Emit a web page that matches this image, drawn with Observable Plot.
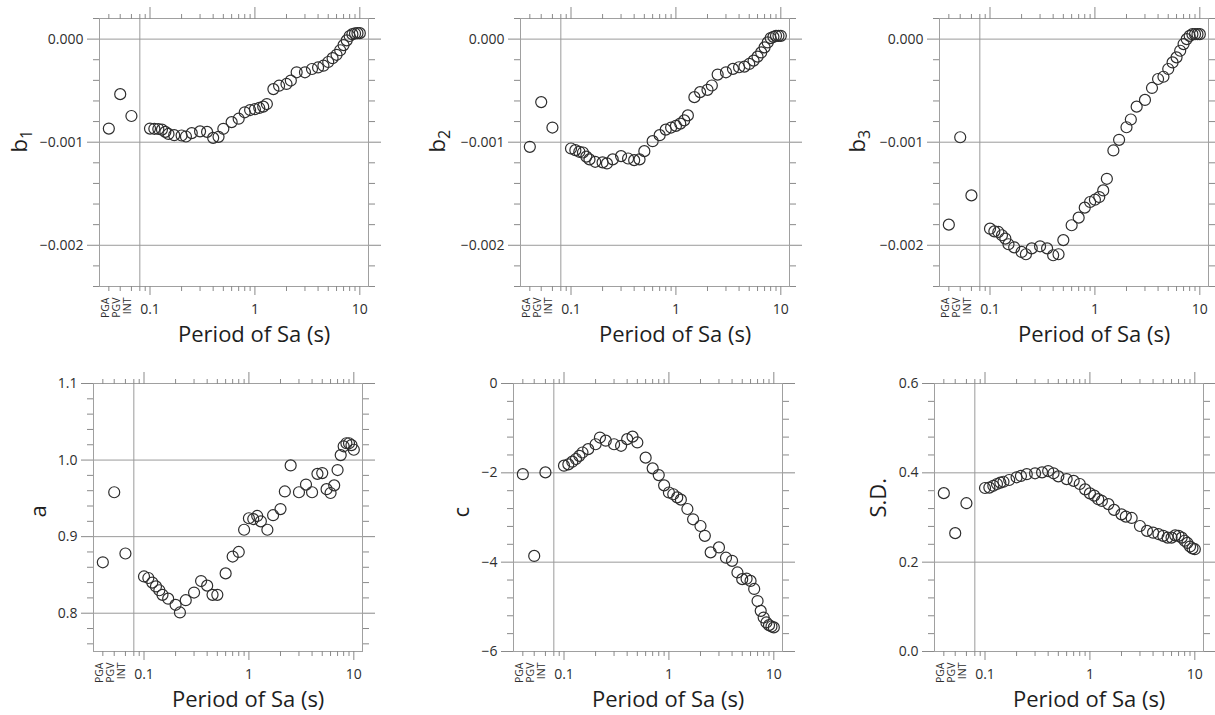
<!DOCTYPE html>
<html><head><meta charset="utf-8">
<script src="https://cdn.jsdelivr.net/npm/d3@7"></script>
<script src="https://cdn.jsdelivr.net/npm/@observablehq/plot@0.6"></script>
<style>
body{margin:0;background:#fff;}
#wrap{position:relative;width:1215px;height:715px;overflow:hidden;}
#wrap svg{position:absolute;overflow:visible;}
</style></head><body><div id="wrap"></div>
<script>
// ---- data ----
const periods = [0.1,0.11,0.12,0.13,0.14,0.15,0.17,0.2,0.22,0.25,0.3,0.35,0.4,0.45,0.5,0.6,0.7,0.8,0.9,1.0,1.1,1.2,1.3,1.5,1.7,2.0,2.2,2.5,3.0,3.5,4.0,4.5,5.0,5.5,6.0,6.5,7.0,7.5,8.0,8.5,9.0,9.5,10.0];
const specialLabels = ["PGA","PGV","INT"];
const specialPos = [0.0405, 0.052, 0.0665];   // plotting positions of PGA, PGV, INT
const separator = [0.08];

const b1 = [-0.000868,-0.000870,-0.000872,-0.000878,-0.000900,-0.000920,-0.000932,-0.000935,-0.000945,-0.000912,-0.000895,-0.000900,-0.000958,-0.000948,-0.000870,-0.000805,-0.000772,-0.000710,-0.000688,-0.000680,-0.000668,-0.000655,-0.000630,-0.000485,-0.000452,-0.000435,-0.000402,-0.000322,-0.000322,-0.000290,-0.000275,-0.000258,-0.000222,-0.000185,-0.000152,-0.000108,-0.000058,-0.000012,0.000030,0.000048,0.000055,0.000058,0.000058];
const b1Special = [-0.000868,-0.000534,-0.000746];

const b2 = [-0.001061,-0.001077,-0.001093,-0.001100,-0.001140,-0.001167,-0.001190,-0.001196,-0.001206,-0.001167,-0.001135,-0.001158,-0.001174,-0.001167,-0.001087,-0.000990,-0.000932,-0.000878,-0.000858,-0.000842,-0.000820,-0.000788,-0.000740,-0.000563,-0.000514,-0.000492,-0.000450,-0.000344,-0.000322,-0.000289,-0.000273,-0.000267,-0.000241,-0.000209,-0.000170,-0.000129,-0.000080,-0.000032,0.000010,0.000022,0.000032,0.000032,0.000032];
const b2Special = [-0.001045,-0.000611,-0.000858];

const b3 = [-0.001839,-0.001865,-0.001871,-0.001903,-0.001935,-0.001990,-0.002020,-0.002065,-0.002087,-0.002030,-0.002010,-0.002030,-0.002097,-0.002087,-0.001950,-0.001806,-0.001732,-0.001635,-0.001580,-0.001558,-0.001532,-0.001468,-0.001355,-0.001080,-0.000977,-0.000855,-0.000780,-0.000655,-0.000590,-0.000474,-0.000387,-0.000365,-0.000290,-0.000226,-0.000177,-0.000113,-0.000048,0.000000,0.000032,0.000048,0.000048,0.000048,0.000048];
const b3Special = [-0.001800,-0.000952,-0.001516];

const aVals = [0.848,0.846,0.840,0.835,0.830,0.824,0.819,0.811,0.801,0.817,0.827,0.842,0.836,0.824,0.824,0.852,0.874,0.880,0.909,0.924,0.923,0.927,0.920,0.909,0.928,0.936,0.959,0.993,0.958,0.968,0.958,0.982,0.983,0.962,0.957,0.967,0.987,1.0065,1.018,1.022,1.022,1.0196,1.0135];
const aSpecial = [0.8665,0.958,0.878];

const cVals = [-1.84,-1.81,-1.75,-1.69,-1.62,-1.545,-1.47,-1.36,-1.21,-1.28,-1.36,-1.395,-1.246,-1.19,-1.32,-1.66,-1.90,-2.05,-2.28,-2.44,-2.48,-2.55,-2.60,-2.81,-3.04,-3.19,-3.41,-3.78,-3.67,-3.90,-3.97,-4.23,-4.38,-4.37,-4.42,-4.60,-4.87,-5.09,-5.24,-5.35,-5.41,-5.44,-5.46];
const cSpecial = [-2.03,-3.86,-1.99];

const sdVals = [0.366,0.367,0.371,0.375,0.378,0.380,0.384,0.390,0.393,0.397,0.399,0.401,0.404,0.399,0.392,0.386,0.382,0.375,0.363,0.354,0.349,0.341,0.337,0.330,0.317,0.307,0.302,0.299,0.281,0.270,0.266,0.263,0.259,0.255,0.255,0.260,0.259,0.255,0.248,0.243,0.235,0.231,0.229];
const sdSpecial = [0.3545,0.265,0.332];

// tick labels / tick values
const xMajor = [0.1, 1, 10];
const xMajorLabels = ["0.1", "1", "10"];
const xMinor = [0.08,0.09,0.2,0.3,0.4,0.5,0.6,0.7,0.8,0.9,2,3,4,5,6,7,8,9];
const xLabel = "Period of Sa (s)";

const bMajor = [-0.002, -0.001, 0];
const bMinor = [-0.0024,-0.0022,-0.0018,-0.0016,-0.0014,-0.0012,-0.0008,-0.0006,-0.0004,-0.0002,0.0002];
const aMajor = [0.8, 0.9, 1.0, 1.1];
const aMinor = [0.76,0.78,0.82,0.84,0.86,0.88,0.92,0.94,0.96,0.98,1.02,1.04,1.06,1.08];
const cMajor = [-6, -4, -2, 0];
const cMinor = [-5.6,-5.2,-4.8,-4.4,-3.6,-3.2,-2.8,-2.4,-1.6,-1.2,-0.8,-0.4];
const sdMajor = [0, 0.2, 0.4, 0.6];
const sdMinor = [0.04,0.08,0.12,0.16,0.24,0.28,0.32,0.36,0.44,0.48,0.52,0.56];

// ---- layout ----
const FONT = "'Open Sans', sans-serif";
const ML = 100, MR = 25, MT = 20, MB = 72, PW = 269, PH = 268;
const xDomain = [0.033, 12.1];
const GRID = "#9a9a9a", FRAME = "#a0a0a0", TICK = "#8a8a8a", TXT = "#2e2e2e";

const panels = [
  {left: 99,  top: 18,  name: "b", sub: "1", vals: b1, spec: b1Special, dom: [-0.0024, 0.0002], major: bMajor, minor: bMinor, fmt: d3.format(".3f"), lab: 80},
  {left: 520, top: 18,  name: "b", sub: "2", vals: b2, spec: b2Special, dom: [-0.0024, 0.0002], major: bMajor, minor: bMinor, fmt: d3.format(".3f"), lab: 83},
  {left: 939, top: 18,  name: "b", sub: "3", vals: b3, spec: b3Special, dom: [-0.0024, 0.0002], major: bMajor, minor: bMinor, fmt: d3.format(".3f"), lab: 82},
  {left: 93,  top: 383, name: "a", sub: "",  vals: aVals, spec: aSpecial, dom: [0.75, 1.1], major: aMajor, minor: aMinor, fmt: d3.format(".1f"), lab: 55},
  {left: 513, top: 383, name: "c", sub: "",  vals: cVals, spec: cSpecial, dom: [-6, 0], major: cMajor, minor: cMinor, fmt: d3.format("d"), lab: 52},
  {left: 934, top: 383, name: "S.D.", sub: "", vals: sdVals, spec: sdSpecial, dom: [0, 0.6], major: sdMajor, minor: sdMinor, fmt: d3.format(".1f"), lab: 56}
];

const wrap = document.getElementById("wrap");
const xLabelX = Math.sqrt(separator[0] * xDomain[1]);

for (const p of panels) {
  const main = periods.map((t, i) => ({t, v: p.vals[i]}));
  const spec = specialPos.map((t, i) => ({t, v: p.spec[i]}));
  const majMap = new Map(xMajor.map((t, i) => [t, xMajorLabels[i]]));
  const lab = {stroke: TICK, fill: TXT, label: null, fontSize: 14};
  const tk = {stroke: TICK, fill: "none", label: null};
  const svg = Plot.plot({
    width: ML + PW + MR, height: MT + PH + MB,
    marginLeft: ML, marginRight: MR, marginTop: MT, marginBottom: MB,
    style: {fontFamily: FONT, fontSize: "14px", background: "transparent", overflow: "visible"},
    x: {type: "log", domain: xDomain, axis: null, label: null},
    y: {domain: p.dom, axis: null, label: null},
    marks: [
      Plot.ruleY(p.major, {stroke: GRID, strokeWidth: 1}),
      Plot.ruleX(separator, {stroke: GRID, strokeWidth: 1}),
      Plot.frame({stroke: FRAME}),
      // y axes (left & right)
      Plot.axisY({...lab, anchor: "left", ticks: p.major, tickSize: 12, tickPadding: 4, tickFormat: p.fmt}),
      Plot.axisY({...tk, anchor: "left", ticks: p.minor, tickSize: 6}),
      Plot.axisY({...tk, anchor: "right", ticks: p.major, tickSize: 12}),
      Plot.axisY({...tk, anchor: "right", ticks: p.minor, tickSize: 6}),
      // x axes (bottom & top)
      Plot.axisX({...lab, anchor: "bottom", ticks: xMajor, tickSize: 9, tickPadding: 9, tickFormat: d => majMap.get(d)}),
      Plot.axisX({...tk, anchor: "bottom", ticks: xMinor.concat(specialPos), tickSize: 5}),
      Plot.axisX({...tk, anchor: "top", ticks: xMajor, tickSize: 12}),
      Plot.axisX({...tk, anchor: "top", ticks: xMinor.concat(specialPos), tickSize: 5}),
      // PGA / PGV / INT labels
      Plot.text(specialLabels, {x: (d, i) => specialPos[i], text: d => d, frameAnchor: "bottom", rotate: -90, textAnchor: "end", dy: 11, fontSize: 10.5, fill: TXT}),
      // axis titles
      Plot.text([p.name + p.sub], {text: d => d, frameAnchor: "left", rotate: -90, dx: -p.lab, fontSize: 22, fill: "#1e1e1e", className: "ylab"}),
      Plot.text([xLabel], {text: d => d, x: () => xLabelX, frameAnchor: "bottom", dy: 55, fontSize: 22, fill: "#1e1e1e"}),
      // data
      Plot.dot(spec, {x: "t", y: "v", r: 5.5, stroke: "#2e2e2e", strokeWidth: 1.2}),
      Plot.dot(main, {x: "t", y: "v", r: 5.5, stroke: "#2e2e2e", strokeWidth: 1.2})
    ]
  });
  if (p.sub) {
    const t = d3.select(svg).select("g.ylab text");
    t.text(p.name);
    t.append("tspan").attr("dy", "0.35em").attr("font-size", "16px").text(p.sub);
  }
  svg.style.left = (p.left - ML) + "px";
  svg.style.top = (p.top - MT) + "px";
  wrap.appendChild(svg);
}
</script>
</body></html>
